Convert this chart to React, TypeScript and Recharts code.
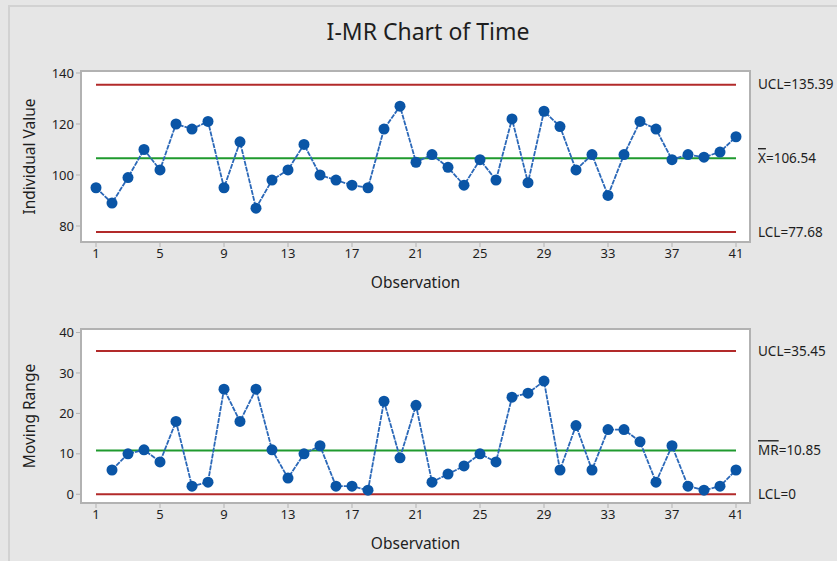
import React from 'react'
import { LineChart, Line, XAxis, YAxis, CartesianGrid, ReferenceLine, ReferenceArea } from 'recharts'

const OBSERVATIONS = [
  1, 2, 3, 4, 5, 6, 7, 8, 9, 10, 11, 12, 13, 14, 15, 16, 17, 18, 19, 20, 21,
  22, 23, 24, 25, 26, 27, 28, 29, 30, 31, 32, 33, 34, 35, 36, 37, 38, 39, 40, 41,
]
const INDIVIDUALS = [
  95, 89, 99, 110, 102, 120, 118, 121, 95, 113, 87, 98, 102, 112, 100, 98, 96, 95, 118, 127, 105,
  108, 103, 96, 106, 98, 122, 97, 125, 119, 102, 108, 92, 108, 121, 118, 106, 108, 107, 109, 115,
]
const MOVING_RANGES: (number | null)[] = [
  null, 6, 10, 11, 8, 18, 2, 3, 26, 18, 26, 11, 4, 10, 12, 2, 2, 1, 23, 9, 22,
  3, 5, 7, 10, 8, 24, 25, 28, 6, 17, 6, 16, 16, 13, 3, 12, 2, 1, 2, 6,
]
const X_TICKS = [1, 5, 9, 13, 17, 21, 25, 29, 33, 37, 41]
const I_TICKS = [80, 100, 120, 140]
const MR_TICKS = [0, 10, 20, 30, 40]
const I_LIMITS = { ucl: 135.39, cl: 106.54, lcl: 77.68 }
const MR_LIMITS = { ucl: 35.45, cl: 10.85, lcl: 0 }

const FONT = '"Noto Sans", "DejaVu Sans", sans-serif'
const TEXT = '#1e1e1e'
const BLUE = '#0a55a6'
const LINE_BLUE = '#2b68b8'
const RED = '#b22a2a'
const GREEN = '#1f9a2e'
const BOX = '#b2b2b2'

const X_DOMAIN: [number, number] = [0.0625, 41.875]

const individualData = OBSERVATIONS.map((obs, i) => ({ obs, value: INDIVIDUALS[i] }))
const mrData = OBSERVATIONS.map((obs, i) => ({ obs, value: MOVING_RANGES[i] }))

const tickStyle = { fontSize: 13, fill: TEXT, fontFamily: FONT }

function limitLabel(content: React.ReactNode) {
  return (props: any) => {
    const vb = props.viewBox || {}
    return (
      <text x={vb.x + vb.width + 22} y={vb.y} dy="0.35em" fontSize={13.5} fill={TEXT} fontFamily={FONT}>
        {content}
      </text>
    )
  }
}

function yTitle(title: string) {
  return (props: any) => {
    const vb = props.viewBox || {}
    const cx = 29
    const cy = vb.y + vb.height / 2
    return (
      <text
        x={cx}
        y={cy}
        transform={`rotate(-90, ${cx}, ${cy})`}
        textAnchor="middle"
        dominantBaseline="central"
        fontSize={15.5}
        fill={TEXT}
        fontFamily={FONT}
      >
        {title}
      </text>
    )
  }
}

function xTitle(props: any) {
  const vb = props.viewBox || {}
  return (
    <text x={vb.x + vb.width / 2} y={vb.y + 46} textAnchor="middle" fontSize={15.5} fill={TEXT} fontFamily={FONT}>
      Observation
    </text>
  )
}

interface PanelProps {
  data: { obs: number; value: number | null }[]
  yDomain: [number, number]
  yTicks: number[]
  limits: { ucl: number; cl: number; lcl: number }
  yLabel: string
  clLabel: React.ReactNode
  uclText: string
  lclText: string
  height: number
  top: number
}

function Panel({ data, yDomain, yTicks, limits, yLabel, clLabel, uclText, lclText, height, top }: PanelProps) {
  return (
    <LineChart
      width={837}
      height={height}
      data={data}
      margin={{ top, right: 87, left: 31, bottom: 8 }}
      style={{ position: 'absolute', left: 0 }}
    >
      <CartesianGrid horizontal={false} vertical={false} fill="#ffffff" />
      <XAxis
        dataKey="obs"
        type="number"
        domain={X_DOMAIN}
        ticks={X_TICKS}
        allowDataOverflow
        axisLine={false}
        tickLine={{ stroke: BOX }}
        tickSize={5}
        tick={tickStyle}
        height={50}
        label={{ content: xTitle }}
      />
      <YAxis
        type="number"
        domain={yDomain}
        ticks={yTicks}
        allowDataOverflow
        axisLine={false}
        tickLine={{ stroke: BOX }}
        tickSize={5}
        tick={tickStyle}
        width={50}
        label={{ content: yTitle(yLabel) }}
      />
      <ReferenceLine
        segment={[{ x: 1, y: limits.ucl }, { x: 41, y: limits.ucl }]}
        stroke={RED}
        strokeWidth={2}
        label={{ content: limitLabel(uclText) }}
      />
      <ReferenceLine
        segment={[{ x: 1, y: limits.cl }, { x: 41, y: limits.cl }]}
        stroke={GREEN}
        strokeWidth={2}
        label={{ content: limitLabel(clLabel) }}
      />
      <ReferenceLine
        segment={[{ x: 1, y: limits.lcl }, { x: 41, y: limits.lcl }]}
        stroke={RED}
        strokeWidth={2}
        label={{ content: limitLabel(lclText) }}
      />
      <ReferenceArea
        x1={X_DOMAIN[0]}
        x2={X_DOMAIN[1]}
        y1={yDomain[0]}
        y2={yDomain[1]}
        fill="none"
        fillOpacity={0}
        stroke={BOX}
        strokeWidth={2}
      />
      <Line
        dataKey="value"
        type="linear"
        stroke={LINE_BLUE}
        strokeWidth={1.8}
        strokeDasharray="5 1"
        dot={{ r: 5.5, fill: BLUE, stroke: BLUE, strokeWidth: 0 }}
        activeDot={false}
        isAnimationActive={false}
      />
    </LineChart>
  )
}

export default function App() {
  return (
    <div
      style={{
        position: 'absolute',
        left: 0,
        top: 0,
        width: 837,
        height: 561,
        background: '#e6e6e6',
        overflow: 'hidden',
        fontFamily: FONT,
      }}
    >
      <div
        style={{
          position: 'absolute',
          left: 8,
          top: 5,
          width: 860,
          height: 600,
          borderLeft: '2px solid #d2d2d2',
          borderTop: '2px solid #d2d2d2',
        }}
      />
      <div
        style={{
          position: 'absolute',
          left: 0,
          width: 856,
          top: 15,
          textAlign: 'center',
          fontSize: 23,
          color: TEXT,
        }}
      >
        I-MR Chart of Time
      </div>
      <div style={{ position: 'absolute', left: 0, top: 0, width: 837, height: 300 }}>
        <Panel
          data={individualData}
          yDomain={[73.73, 140.78]}
          yTicks={I_TICKS}
          limits={I_LIMITS}
          yLabel="Individual Value"
          clLabel={
            <>
              <tspan style={{ textDecoration: 'overline' }}>X</tspan>={I_LIMITS.cl}
            </>
          }
          uclText={`UCL=${I_LIMITS.ucl}`}
          lclText={`LCL=${I_LIMITS.lcl}`}
          height={300}
          top={71}
        />
      </div>
      <div style={{ position: 'absolute', left: 0, top: 300, width: 837, height: 261 }}>
        <Panel
          data={mrData}
          yDomain={[-2.16, 40.87]}
          yTicks={MR_TICKS}
          limits={MR_LIMITS}
          yLabel="Moving Range"
          clLabel={
            <>
              <tspan style={{ textDecoration: 'overline' }}>MR</tspan>={MR_LIMITS.cl}
            </>
          }
          uclText={`UCL=${MR_LIMITS.ucl}`}
          lclText={`LCL=${MR_LIMITS.lcl}`}
          height={261}
          top={29}
        />
      </div>
    </div>
  )
}
